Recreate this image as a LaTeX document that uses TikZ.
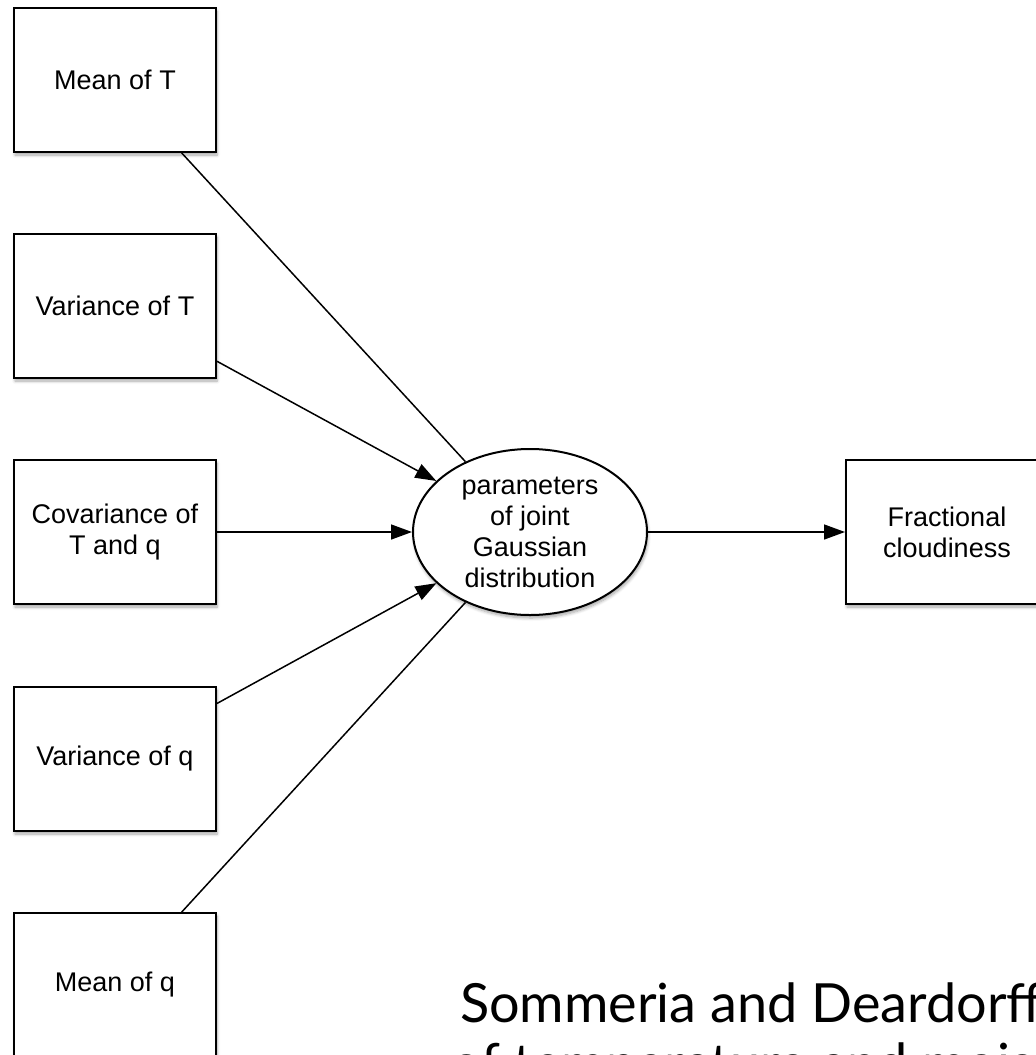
\documentclass[tikz,border=0pt]{standalone}
\usepackage{fontspec}
\setmainfont{Liberation Sans}
\newfontfamily\notefont{Lato}
\usetikzlibrary{arrows.meta,shapes.geometric,shadows.blur}

\begin{document}
\begin{tikzpicture}
    [x=1pt,y=-1pt,line width=1.5pt,
     every node/.style={font=\fontsize{27}{31}\selectfont, align=center},
     soft/.style={blur shadow={shadow xshift=1pt, shadow yshift=-3pt, shadow blur radius=3pt, shadow blur steps=6, shadow opacity=35}},
     box/.style={rectangle, draw, line width=2pt, fill=white, soft, minimum width=202pt, minimum height=144pt, inner sep=0pt},
     gauss/.style={ellipse, draw, line width=2pt, fill=white, soft, minimum width=234pt, minimum height=166pt, inner xsep=0pt, inner ysep=-10pt},
     feed/.style={-{Triangle[length=21pt,width=15pt]}},
     note/.style={anchor=base west, font=\notefont\fontsize{54}{56}\selectfont}]
    \useasboundingbox (0,0) rectangle (1036,1055);
    \clip (0,0) rectangle (1036,1055);

    \node[box] (mT) at (115, 80) {Mean of T};
    \node[box] (vT) at (115, 306) {Variance of T};
    \node[box] (cTq) at (115, 532) {Covariance of\\T and q};
    \node[box] (vq) at (115, 759) {Variance of q};
    \node[box] (mq) at (115, 985) {Mean of q};
    \node[gauss] (p) at (530, 532) {parameters\\of joint\\Gaussian\\distribution};
    \node[box] (fc) at (947, 532) {Fractional\\cloudiness};

    \node[note] (sd1) at (456, 1022) {Sommeria and Deardorff};
    \node[note] (sd2) at (447, 1082) {of temperature and moisture};

    \draw (mT) -- (p);
    \draw[feed] (vT) -- (p);
    \draw[feed] (cTq) -- (p);
    \draw[feed] (vq) -- (p);
    \draw (mq) -- (p);
    \draw[feed] (p) -- (fc);
\end{tikzpicture}
\end{document}
